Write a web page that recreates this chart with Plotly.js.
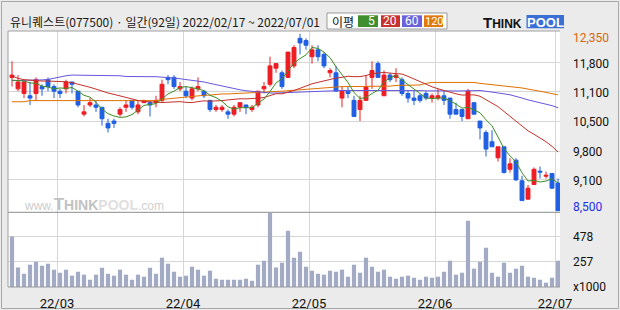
<!DOCTYPE html>
<html><head><meta charset="utf-8">
<script src="https://cdn.plot.ly/plotly-3.0.1.min.js"></script>
<style>html,body{margin:0;padding:0;background:#ebebeb;}#chart{width:620px;height:310px;}</style>
</head><body><div id="chart"></div>
<script>
// ---------- data ----------
const stockName = '유니퀘스트';
const stockCode = '077500';
const dates = [
'2022-02-17','2022-02-18','2022-02-21','2022-02-22','2022-02-23','2022-02-24','2022-02-25','2022-02-28',
'2022-03-02','2022-03-03','2022-03-04','2022-03-07','2022-03-08','2022-03-10','2022-03-11','2022-03-14','2022-03-15','2022-03-16','2022-03-17','2022-03-18','2022-03-21','2022-03-22','2022-03-23','2022-03-24','2022-03-25','2022-03-28','2022-03-29','2022-03-30','2022-03-31',
'2022-04-01','2022-04-04','2022-04-05','2022-04-06','2022-04-07','2022-04-08','2022-04-11','2022-04-12','2022-04-13','2022-04-14','2022-04-15','2022-04-18','2022-04-19','2022-04-20','2022-04-21','2022-04-22','2022-04-25','2022-04-26','2022-04-27','2022-04-28','2022-04-29',
'2022-05-02','2022-05-03','2022-05-04','2022-05-06','2022-05-09','2022-05-10','2022-05-11','2022-05-12','2022-05-13','2022-05-16','2022-05-17','2022-05-18','2022-05-19','2022-05-20','2022-05-23','2022-05-24','2022-05-25','2022-05-26','2022-05-27','2022-05-30','2022-05-31',
'2022-06-02','2022-06-03','2022-06-07','2022-06-08','2022-06-09','2022-06-10','2022-06-13','2022-06-14','2022-06-15','2022-06-16','2022-06-17','2022-06-20','2022-06-21','2022-06-22','2022-06-23','2022-06-24','2022-06-27','2022-06-28','2022-06-29','2022-06-30',
'2022-07-01'];
const open  = [11400,11150,11050,11000,11050,11200,11350,11200,11100,11150,11300,11100,10600,10800,10800,10750,10400,10450,10600,10750,
               10900,10650,10850,10850,10850,10900,11400,11400,11150,11100,10950,11150,11100,10900,10700,10700,10650,10600,10750,10800,
               10700,10800,11150,11250,11600,11500,11400,11650,12250,12200,11850,12000,11900,11500,11500,10950,11100,10900,10700,10900,
               11400,11700,11000,11450,11400,11350,11050,10950,11000,11050,10950,10950,11000,10950,10700,10700,10500,10850,10450,10200,
               10000,9650,9890,9400,9600,9150,8750,9070,9360,9250,9310,9100];
const high  = [11750,11450,11350,11300,11400,11250,11400,11250,11150,11350,11300,11100,10800,10950,10900,10750,10500,10500,10750,10900,
               10900,10900,10900,10900,11000,11350,11450,11450,11300,11200,11200,11400,11100,10900,10800,10800,10700,10800,10850,10800,
               10800,11100,11300,11850,11700,11550,11950,12100,12350,12250,12100,12100,11950,11600,11650,11200,11200,11000,11000,11450,
               11750,11750,11550,11500,11600,11400,11100,11100,11050,11100,11050,11150,11100,10950,10850,10700,11150,10850,10450,10250,
               10250,9890,9890,9640,9640,9260,9060,9440,9460,9350,9310,9200];
const low   = [11200,11100,10950,10800,10900,11000,11100,10950,10950,11050,11050,10750,10550,10750,10650,10350,10200,10300,10550,10650,
               10700,10600,10850,10550,10750,10850,11250,11150,11100,10950,10900,11100,10950,10650,10650,10650,10500,10550,10650,10600,
               10650,10750,11050,11200,11500,11150,11400,11600,11900,12000,11700,11750,11600,11400,11100,10750,10950,10550,10450,10900,
               11150,11400,11000,11300,11300,11000,10850,10800,10850,10900,10850,10900,10800,10500,10600,10450,10500,10600,10050,9680,
               9890,9570,9310,9330,9150,8720,8750,9070,9200,9200,8970,8500];
const close = [11450,11300,11300,10950,11350,11150,11200,11100,11050,11300,11250,10800,10650,10850,10750,10500,10300,10400,10700,10800,
               10750,10800,10900,10800,10900,11250,11350,11200,11200,11000,11150,11200,11000,10700,10750,10750,10600,10750,10850,10750,
               10750,11100,11200,11650,11700,11200,11950,12050,12150,12100,12000,11850,11650,11550,11100,11100,11050,10550,10900,11200,
               11550,11400,11450,11350,11450,11050,10950,10900,10900,10950,11000,11000,10900,10600,10600,10550,11100,10600,10300,9840,
               9890,9890,9330,9520,9170,8720,8990,9400,9340,9270,8990,8500];
const volume = [483,209,153,233,259,224,242,189,162,189,136,171,145,100,145,206,153,136,189,145,
                100,145,127,206,153,295,242,171,127,136,215,189,136,180,109,100,100,100,100,109,
                91,233,268,690,209,251,534,295,348,215,180,153,145,180,171,189,127,233,162,295,
                215,171,189,127,109,127,136,118,100,127,118,127,171,268,145,162,622,198,259,383,
                162,127,251,162,198,224,127,118,100,74,118,268];
const ma5Lead  = [11340,11330,11320,11280];
const ma20Lead = [11430,11380,11350,11335,11330,11320,11320,11315,11315,11305,11285,11255,11220,11185,11145,11095,11060,11030,10995];
const ma60Lead = [11330,11330,11330,11330,11335,11345,11355,11385,11415,11435,
                  11450,11450,11450,11450,11450,11450,11450,11445,11435,11420,
                  11415,11415,11415,11415,11415,11410,11400,11385,11370,11355,
                  11345,11320,11300,11270,11240,11210,11185,11155,11130,11110,
                  11095,11080,11070,11060,11060,11065,11075,11080,11090,11095,
                  11105,11110,11110,11115,11115,11115,11115,11115,11115];
const ma120 = [10870,10870,10870,10895,10895,10895,10895,10895,10895,10895,10895,10895,10895,10895,10895,10895,10895,10895,10895,10895,
               10895,10895,10895,10895,10895,10920,10935,10945,10950,10975,10995,11000,11010,11015,11030,11040,11040,11045,11055,11060,
               11065,11065,11075,11075,11080,11100,11110,11120,11125,11140,11145,11160,11180,11190,11200,11200,11200,11200,11200,11200,
               11200,11200,11200,11210,11225,11225,11225,11235,11235,11270,11290,11290,11290,11290,11290,11290,11290,11290,11270,11255,
               11250,11240,11225,11210,11190,11170,11145,11125,11100,11075,11045,11020];
const maPeriods = [5, 20, 60, 120];
const priceTickLabels = ['11,800','11,100','10,500','9,800','9,100'];
const volumeTickLabels = ['478','257'];
const volumeUnit = 'x1000';

// ---------- derived ----------
function movingAvg(lead, n){
  const out = [];
  for (let i = 0; i < close.length; i++) {
    if (i < n - 1) { out.push(lead[i]); continue; }
    let s = 0; for (let k = i - n + 1; k <= i; k++) s += close[k];
    out.push(s / n);
  }
  return out;
}
const ma5 = movingAvg(ma5Lead, 5);
const ma20 = movingAvg(ma20Lead, 20);
const ma60 = movingAvg(ma60Lead, 60);
const idx = dates.map((d, i) => i);
const monthPos = [], monthText = [];
for (let i = 1; i < dates.length; i++) {
  if (dates[i].slice(5, 7) !== dates[i - 1].slice(5, 7)) {
    monthPos.push(i - 0.5);
    monthText.push(dates[i].slice(2, 4) + '/' + dates[i].slice(5, 7));
  }
}
const maxHigh = Math.max(...high), minLow = Math.min(...low);
const fmt = v => v.toLocaleString('en-US');

// ---------- styling ----------
const RED = '#ee1c23', BLUE = '#1f5fe3';
const C5 = '#3c8c22', C20 = '#c4302a', C60 = '#6756dc', C120 = '#e07000';
const GRID = '#d6d6d6', BORDER = '#a0a0a0';
const L = 8, R = 560, T = 31, B = 287;
const px = x => (x - L) / (R - L);
const py = y => (B - y) / (B - T);
const split = py(212.3);
const priceGridVals = [11717, 11086, 10449, 9797, 9172];
const volGridVals = [478, 257];

function maTrace(y, color){
  return {type:'scatter', mode:'lines', x: idx, y: y, xaxis:'x', yaxis:'y',
          line:{color: color, width: 1}, hoverinfo:'skip'};
}
const traces = [
  maTrace(ma120, C120), maTrace(ma60, C60), maTrace(ma20, C20), maTrace(ma5, C5),
  {type:'candlestick', x: idx, open: open, high: high, low: low, close: close, xaxis:'x', yaxis:'y',
   increasing:{line:{color:RED, width:1}, fillcolor:RED},
   decreasing:{line:{color:BLUE, width:1}, fillcolor:BLUE},
   whiskerwidth:0, hoverinfo:'skip'},
  {type:'bar', x: idx, y: volume, xaxis:'x', yaxis:'y2', marker:{color:'#a3abc4', line:{width:0}}, hoverinfo:'skip'}
];

const ann = [];
const FONT = 'Roboto, "Noto Sans CJK KR", sans-serif';
ann.push({xref:'paper', yref:'paper', x:px(8), y:py(21.5), xanchor:'left', yanchor:'middle', showarrow:false,
  text: stockName + '(' + stockCode + ') · 일간(' + dates.length + '일) ' + dates[0].replace(/-/g,'/') + ' ~ ' + dates[dates.length-1].replace(/-/g,'/'),
  font:{family:'"Noto Sans CJK KR", sans-serif', size:12, color:'#1a1a1a'}});
// legend
ann.push({xref:'paper', yref:'paper', x:px(343), y:py(21), xanchor:'center', yanchor:'middle', showarrow:false,
  text:'이평', font:{family:'"Noto Sans CJK KR", sans-serif', size:12, color:'#111'}});
const legBoxes = [[358,378,'#3f8f2f'],[381,400,'#c8322c'],[402,422,'#6b62d9'],[424,443,'#e07a10']];
const shapes = [];
shapes.push({type:'rect', xref:'paper', yref:'paper', x0:px(1.5), x1:px(618.5), y0:py(308.5), y1:py(1.5), line:{color:'#a8a8a8', width:1}, fillcolor:'rgba(0,0,0,0)', layer:'below'});
shapes.push({type:'rect', xref:'paper', yref:'paper', x0:px(327), x1:px(447), y0:py(29), y1:py(13), line:{color:'#9a9a9a', width:1}, fillcolor:'#ffffff'});
legBoxes.forEach((b, k) => {
  shapes.push({type:'rect', xref:'paper', yref:'paper', x0:px(b[0]), x1:px(b[1]), y0:py(27), y1:py(15.3), line:{width:0}, fillcolor:b[2]});
  const wide = String(maPeriods[k]).length > 2;
  ann.push({xref:'paper', yref:'paper', x:px(wide ? (b[0]+b[1])/2 + 0.5 : b[1]-1), y:py(21.3), xanchor: wide ? 'center' : 'right', yanchor:'middle', showarrow:false,
    text:String(maPeriods[k]), font:{family:FONT, size: wide ? 11 : 12, color:'#ffffff'}});
});
// logo
shapes.push({type:'rect', xref:'paper', yref:'paper', x0:px(526.5), x1:px(564), y0:py(28.3), y1:py(15), line:{width:0}, fillcolor:'#3a6fd6'});
ann.push({xref:'paper', yref:'paper', x:px(481), y:py(22.5), xanchor:'left', yanchor:'middle', showarrow:false,
  text:'<b><span style="font-size:15px">T</span>HINK</b>', font:{family:'"Liberation Sans", Arial, sans-serif', size:12, color:'#111'}});
ann.push({xref:'paper', yref:'paper', x:px(545.3), y:py(22), xanchor:'center', yanchor:'middle', showarrow:false,
  text:'<b>POOL</b>', font:{family:'"Liberation Sans", Arial, sans-serif', size:13, color:'#ffffff'}});
// watermark
ann.push({xref:'paper', yref:'paper', x:px(22), y:py(204), xanchor:'left', yanchor:'middle', showarrow:false,
  text:'<span style="color:#cdcdcd;font-size:12px">www.</span><b><span style="color:#c2c2c2;font-size:17px">T</span><span style="color:#c2c2c2">HINK</span><span style="color:#e0e0e0">POOL</span></b><span style="color:#d0d0d0;font-size:12px">.com</span>',
  font:{family:'"Liberation Sans", Arial, sans-serif', size:14, color:'#cccccc'}});
// right axis labels
priceGridVals.forEach((v, k) => ann.push({xref:'paper', yref:'y', x:1, xshift:11, y:v, yshift:-1, xanchor:'left', yanchor:'middle', showarrow:false,
  text:priceTickLabels[k], font:{family:FONT, size:12, color:'#111'}}));
ann.push({xref:'paper', yref:'y', x:1, xshift:11, y:maxHigh, yshift:-4.5, xanchor:'left', yanchor:'middle', showarrow:false,
  text:fmt(maxHigh), font:{family:FONT, size:12, color:'#d9650a'}});
ann.push({xref:'paper', yref:'y', x:1, xshift:11, y:minLow, yshift:3.5, xanchor:'left', yanchor:'middle', showarrow:false,
  text:fmt(minLow), font:{family:FONT, size:12, color:'#1c2fe6'}});
volGridVals.forEach((v, k) => ann.push({xref:'paper', yref:'y2', x:1, xshift:11, y:v, yshift:-0.5, xanchor:'left', yanchor:'middle', showarrow:false,
  text:volumeTickLabels[k], font:{family:FONT, size:12, color:'#111'}}));
ann.push({xref:'paper', yref:'paper', x:1, xshift:11, y:py(286.7), xanchor:'left', yanchor:'middle', showarrow:false,
  text:volumeUnit, font:{family:FONT, size:12, color:'#111'}});

// panel borders
shapes.push({type:'line', xref:'paper', yref:'paper', x0:0, x1:1, y0:1, y1:1, line:{color:BORDER, width:1}});
shapes.push({type:'line', xref:'paper', yref:'paper', x0:0, x1:0, y0:0, y1:1, line:{color:BORDER, width:1}});
shapes.push({type:'line', xref:'paper', yref:'paper', x0:0, x1:1, y0:split, y1:split, line:{color:'#8e8e8e', width:1}});
shapes.push({type:'line', xref:'paper', yref:'paper', x0:0, x1:1, y0:0, y1:0, line:{color:'#999999', width:1}});

const layout = {
  width:620, height:310, margin:{l:L, r:620-R, t:T, b:310-B, pad:0},
  paper_bgcolor:'#ebebeb', plot_bgcolor:'#ffffff', showlegend:false,
  font:{family:FONT, size:12, color:'#111'},
  boxgap:0.35, boxgroupgap:0, bargap:0.3,
  xaxis:{range:[-0.667, 91.333], anchor:'y2', tickmode:'array', tickvals:monthPos, ticktext:monthText,
         showgrid:true, gridcolor:GRID, gridwidth:1, zeroline:false, showline:false,
         ticks:'outside', ticklen:4, tickcolor:'rgba(0,0,0,0)', tickfont:{family:FONT, size:13, color:'#111'},
         rangeslider:{visible:false}, fixedrange:true},
  yaxis:{domain:[split, 1], range:[8465, 12409], tickmode:'array', tickvals:priceGridVals, showticklabels:false,
         showgrid:true, gridcolor:GRID, gridwidth:1, zeroline:false, showline:false, ticks:'', fixedrange:true},
  yaxis2:{domain:[0, split], range:[36, 696], tickmode:'array', tickvals:volGridVals, showticklabels:false,
          showgrid:true, gridcolor:GRID, gridwidth:1, zeroline:false, showline:false, ticks:'', fixedrange:true},
  shapes: shapes, annotations: ann
};
Plotly.newPlot('chart', traces, layout, {displayModeBar:false, staticPlot:true});
</script>
</body></html>
